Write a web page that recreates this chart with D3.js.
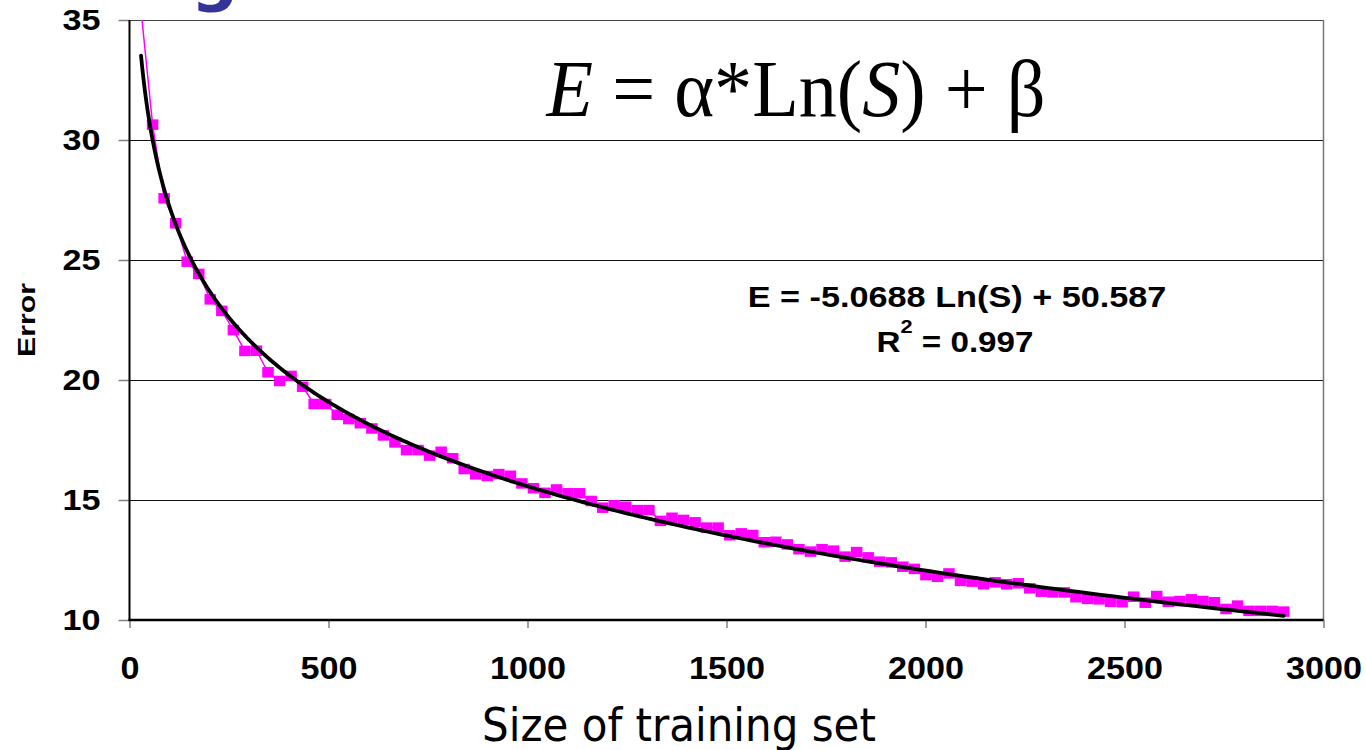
<!DOCTYPE html>
<html><head><meta charset="utf-8">
<script src="https://cdn.jsdelivr.net/npm/d3@7"></script>
<style>html,body{margin:0;padding:0;background:#fff;overflow:hidden}</style>
</head><body>
<svg id="c" width="1366" height="750"></svg>
<script>
// ---- data ----
const sizes = [29,58,87,116,145,174,203,232,261,290,319,348,377,406,435,464,493,522,551,580,
  609,638,667,696,725,754,783,812,841,870,899,928,957,986,1015,1044,1073,1102,1131,1160,
  1189,1218,1247,1276,1305,1334,1363,1392,1421,1450,1479,1508,1537,1566,1595,1624,1653,1682,1711,1740,
  1769,1798,1827,1856,1885,1914,1943,1972,2001,2030,2059,2088,2117,2146,2175,2204,2233,2262,2291,2320,
  2349,2378,2407,2436,2465,2494,2523,2552,2581,2610,2639,2668,2697,2726,2755,2784,2813,2842,2871,2900];
const errors = [35.4,30.64,27.57,26.53,24.93,24.42,23.36,22.88,22.08,21.21,
  21.22,20.32,19.96,20.17,19.72,19.0,19.0,18.55,18.37,18.2,
  17.98,17.69,17.4,17.08,17.08,16.85,17.01,16.74,16.29,16.07,
  16.0,16.08,16.01,15.69,15.49,15.3,15.44,15.28,15.28,14.96,
  14.68,14.78,14.72,14.58,14.58,14.13,14.26,14.17,14.07,13.85,
  13.85,13.53,13.61,13.54,13.24,13.26,13.15,12.95,12.85,12.95,
  12.89,12.64,12.83,12.61,12.43,12.4,12.22,12.13,11.87,11.8,
  11.94,11.63,11.6,11.49,11.57,11.49,11.53,11.32,11.18,11.15,
  11.15,10.95,10.88,10.86,10.76,10.74,10.97,10.72,11.0,10.76,
  10.79,10.86,10.79,10.74,10.46,10.6,10.38,10.38,10.38,10.35];
const xTicks = [0,500,1000,1500,2000,2500,3000];
const yTicks = [10,15,20,25,30,35];
const alpha = -5.0688, beta = 50.587, r2 = 0.997;
const xDomain = [0,3000], yDomain = [10,35];
const xTitle = 'Size of training set', yTitle = 'Error';

// ---- setup ----
const svg = d3.select('#c');
const x = d3.scaleLinear().domain(xDomain).range([129.5,1323.5]);
const y = d3.scaleLinear().domain(yDomain).range([620,20]);

function placeText(cx, by, target, build, rot, anchor){
  const g = svg.append('g');
  const t = g.append('text').attr('x',0).attr('y',0).attr('text-anchor',anchor||'middle');
  build(t);
  const w = g.node().getBBox().width;
  const s = target / w;
  g.attr('transform', `translate(${cx},${by})` + (rot?` rotate(${rot})`:'') + ` scale(${s},1)`);
  return g;
}

// blue title fragment (cut off at top edge, as in the reference)
svg.append('text').attr('x',191).attr('y',-2.5)
  .attr('font-family','DejaVu Sans').attr('font-weight','bold').attr('font-size',66)
  .attr('fill','#333399').text('g');

// clip
svg.append('clipPath').attr('id','clip').append('rect')
  .attr('x',x(0)).attr('y',y(35)).attr('width',x(3000)-x(0)).attr('height',y(10)-y(35));

// gridlines
svg.append('g').selectAll('line').data(yTicks.filter(d=>d>10)).join('line')
  .attr('x1',x(0)).attr('x2',x(3000)).attr('y1',d=>Math.round(y(d))+0.5).attr('y2',d=>Math.round(y(d))+0.5)
  .attr('stroke',d=>d===35?'#444':'#111').attr('stroke-width',1.1);
// right border
svg.append('line').attr('x1',x(3000)).attr('x2',x(3000)).attr('y1',y(35)).attr('y2',y(10))
  .attr('stroke','#777').attr('stroke-width',1.5);

// axes
const fmt = d3.format('d');
const yAxis = svg.append('g').attr('transform',`translate(${x(0)},0)`)
  .call(d3.axisLeft(y).tickValues(yTicks).tickFormat(fmt).tickSize(11).tickPadding(18));
const xAxis = svg.append('g').attr('transform',`translate(0,${y(10)})`)
  .call(d3.axisBottom(x).tickValues(xTicks).tickFormat(fmt).tickSize(8).tickPadding(29));
[yAxis,xAxis].forEach(a=>{
  a.select('.domain').remove();
  a.selectAll('.tick line').attr('stroke','#808080').attr('stroke-width',1.5);
  a.selectAll('.tick text').attr('font-family','Liberation Sans, Arial, sans-serif')
    .attr('font-weight','bold').attr('fill','#000')
    .attr('lengthAdjust','spacingAndGlyphs');
});
yAxis.selectAll('.tick text').attr('font-size',29).attr('textLength',d=>fmt(d).length*19);
xAxis.selectAll('.tick text').attr('font-size',31).attr('textLength',d=>fmt(d).length*19);

// axis lines
svg.append('line').attr('x1',x(0)).attr('x2',x(0)).attr('y1',y(35)).attr('y2',y(10)+1)
  .attr('stroke','#000').attr('stroke-width',2);
svg.append('line').attr('x1',x(0)-1).attr('x2',x(3000)).attr('y1',y(10)).attr('y2',y(10))
  .attr('stroke','#000').attr('stroke-width',2.6);

// data series
const plot = svg.append('g').attr('clip-path','url(#clip)');
const pts = sizes.map((s,i)=>({s, e:errors[i]}));
plot.append('path').datum(pts)
  .attr('d', d3.line().x(d=>x(d.s)).y(d=>y(d.e)))
  .attr('fill','none').attr('stroke','#ff00ff').attr('stroke-width',1.5);
const mw = 11.5, mh = 10.5;
plot.append('g').selectAll('rect').data(pts.filter(d=>d.e<=yDomain[1])).join('rect')
  .attr('x',d=>x(d.s)-mw/2).attr('y',d=>y(d.e)-mh/2).attr('width',mw).attr('height',mh)
  .attr('fill','#ff00ff');

// logarithmic trendline (fitted model E = alpha*ln(S) + beta)
const s0 = sizes[0], s1 = sizes[sizes.length-1];
const trend = d3.range(0,401).map(k=>{ const s = s0*Math.pow(s1/s0,k/400); return {s, e: alpha*Math.log(s)+beta}; });
plot.append('path').datum(trend)
  .attr('d', d3.line().x(d=>x(d.s)).y(d=>y(d.e)))
  .attr('fill','none').attr('stroke','#000').attr('stroke-width',3.8).attr('stroke-linecap','round');

// y-axis title
placeText(35, 320, 74, t=>t.attr('font-family','Liberation Sans, Arial, sans-serif')
  .attr('font-weight','bold').attr('font-size',24).attr('fill','#000').text(yTitle), -90);

// x-axis title
placeText(679, 741, 394, t=>t.attr('font-family','DejaVu Sans, Verdana, sans-serif')
  .attr('font-size',46).attr('fill','#000').text(xTitle));

// model equation (serif)
placeText(796, 116, 500, t=>{
  t.attr('font-family','Liberation Serif, Times New Roman, serif').attr('font-size',80).attr('fill','#000');
  t.append('tspan').attr('font-style','italic').text('E');
  t.append('tspan').text(' = \u03B1*Ln(');
  t.append('tspan').attr('font-style','italic').text('S');
  t.append('tspan').text(') + \u03B2');
});

// trendline label
const fitText = `E = ${alpha} Ln(S) + ${beta}`;
placeText(957, 307, 419, t=>t.attr('font-family','Liberation Sans, Arial, sans-serif')
  .attr('font-weight','bold').attr('font-size',29).attr('fill','#000').text(fitText));
placeText(955, 352, 157, t=>{
  t.attr('font-family','Liberation Sans, Arial, sans-serif').attr('font-weight','bold')
   .attr('font-size',29).attr('fill','#000');
  t.append('tspan').text('R');
  t.append('tspan').attr('font-size',19).attr('dy',-19).text('2');
  t.append('tspan').attr('dy',19).text(` = ${r2}`);
});
</script>
</body></html>
